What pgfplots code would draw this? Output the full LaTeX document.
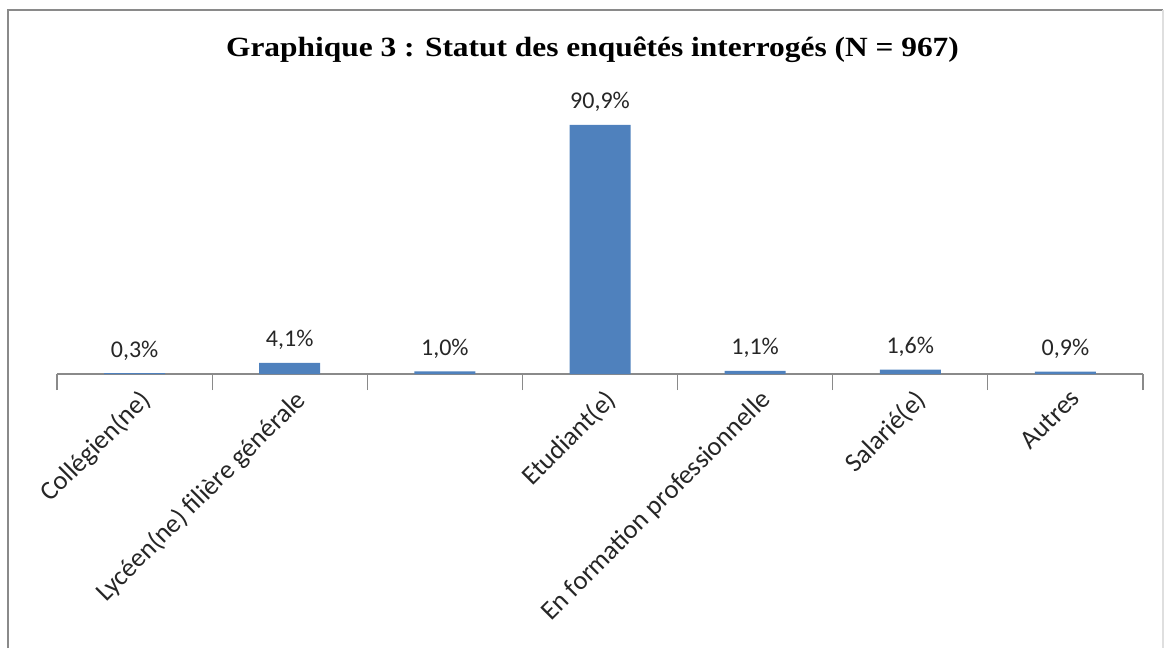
\documentclass[border=0pt]{standalone}
\usepackage{pgfplots}
\pgfplotsset{compat=1.18}
\usepackage{fontspec}
\setmainfont{Carlito}
\newfontfamily\titlefont{Liberation Serif}
\definecolor{barblue}{HTML}{4F81BD}
\definecolor{axgray}{HTML}{8A8A8A}
\definecolor{txt}{HTML}{262626}
\begin{document}
\begin{tikzpicture}
\useasboundingbox (-28.5pt,-137pt) rectangle (555pt,187pt);
\draw[axgray, line width=1.1pt] (-24.5pt,-137pt) -- (-24.5pt,182pt) -- (553pt,182pt);
\draw[gray!25, line width=0.8pt] (553pt,182pt) -- (553pt,-137pt);
\begin{axis}[
  at={(0,0)}, anchor=south west,
  scale only axis,
  width=543pt, height=137pt,
  xmin=0.5, xmax=7.5, ymin=0, ymax=100,
  axis x line*=bottom,
  axis y line=none,
  axis line style={axgray, line width=0.6pt},
  ybar, bar width=30.5pt,
  xtick={1,2,3,4,5,6,7},
  xticklabels={Collégien(ne), Lycéen(ne) filière générale, {}, Etudiant(e), En formation professionnelle, Salarié(e), Autres},
  major tick length=0pt,
  xticklabel style={rotate=45, anchor=north east, font=\fontsize{13.3}{15}\selectfont, text=txt, inner sep=1pt, xshift=-2.5pt, yshift=-5pt},
  extra x ticks={0.5,1.5,2.5,3.5,4.5,5.5,6.5,7.5},
  extra x tick labels={},
  extra x tick style={major tick length=8pt, tick style={axgray, line width=0.6pt}, tick align=outside},
  nodes near coords={\pgfmathprintnumber[fixed,fixed zerofill,precision=1,use comma,assume math mode=true]{\pgfplotspointmeta}\%},
  nodes near coords style={font=\fontsize{12}{14}\selectfont, text=txt, anchor=south, yshift=3pt},
  clip=false,
]
\addplot[fill=barblue, draw=none] coordinates {(1,0.3) (2,4.1) (3,1.0) (4,90.9) (5,1.1) (6,1.6) (7,0.9)};
\end{axis}
\node[anchor=base, font=\titlefont\bfseries\fontsize{13.9}{16}\selectfont] at (267.75pt,158.5pt) {\scalebox{1.13}[1]{Graphique 3 : Statut des enquêtés interrogés (N = 967)}};
\end{tikzpicture}
\end{document}
